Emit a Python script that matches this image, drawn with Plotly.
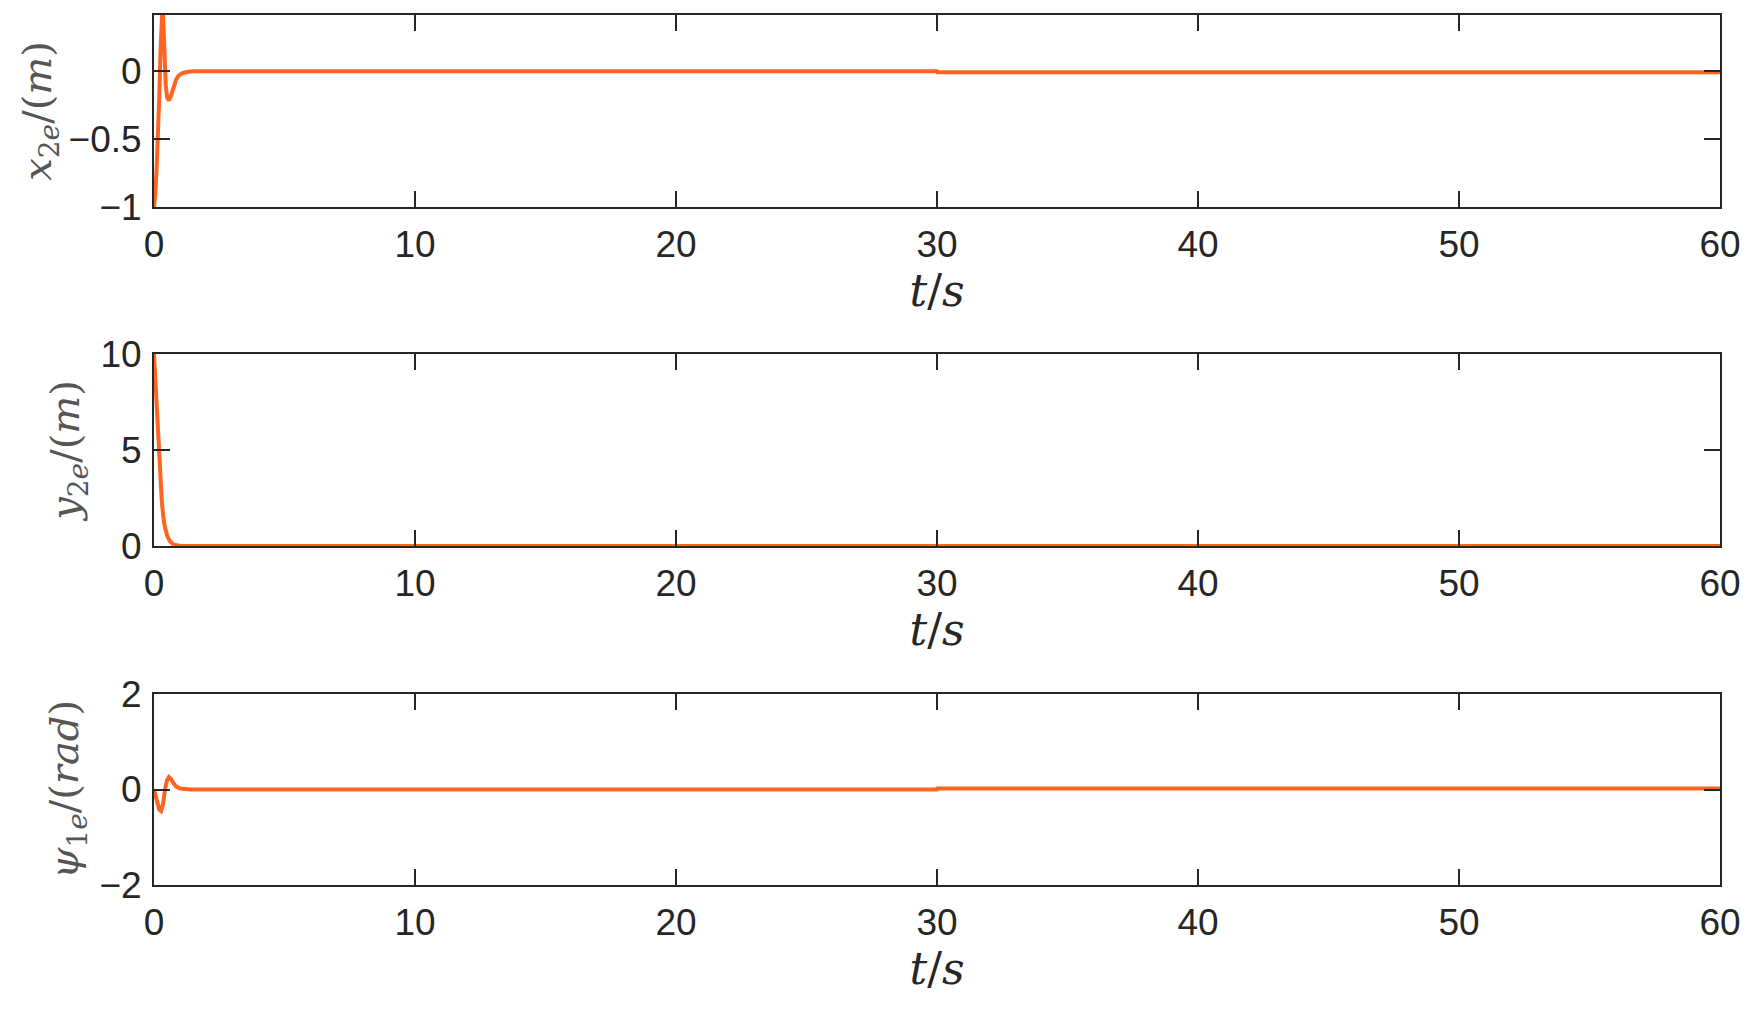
import plotly.graph_objects as go

# ---- data ----
t_x2e = [0, 0.05, 0.1, 0.15, 0.2, 0.25, 0.3, 0.33, 0.36, 0.4, 0.45, 0.5, 0.57,
         0.65, 0.75, 0.85, 0.95, 1.1, 1.3, 1.5, 30, 30.02, 60]
x2e = [-1, -0.9, -0.72, -0.5, -0.2, 0.15, 0.45, 0.5, 0.35, 0.05, -0.1, -0.19, -0.215,
       -0.18, -0.11, -0.06, -0.03, -0.012, -0.003, 0, 0, -0.006, -0.006]

t_y2e = [0, 0.05, 0.1, 0.15, 0.2, 0.25, 0.3, 0.35, 0.4, 0.5, 0.6, 0.7, 0.8, 1.0, 1.3, 60]
y2e = [10, 8.6, 7.0, 5.5, 4.2, 3.1, 2.3, 1.6, 1.1, 0.55, 0.27, 0.12, 0.05, 0.01, 0, 0]

t_psi = [0, 0.1, 0.2, 0.27, 0.35, 0.42, 0.5, 0.57, 0.65, 0.75, 0.85, 1.0, 1.2, 1.4,
         30, 30.02, 60]
psi1e = [0, -0.2, -0.42, -0.45, -0.3, 0, 0.2, 0.26, 0.22, 0.13, 0.06, 0.02, 0.005, 0,
         0, 0.02, 0.02]

x_ticks = [0, 10, 20, 30, 40, 50, 60]
y1_ticks = [-1, -0.5, 0]
y1_ticklabels = ["\u22121", "\u22120.5", "0"]
y2_ticks = [0, 5, 10]
y3_ticks = [-2, 0, 2]
y3_ticklabels = ["\u22122", "0", "2"]

y1_range = [-1, 0.415]
y2_range = [0, 10]
y3_range = [-2, 2]
x_range = [0, 60]

LINE_COLOR = "#FF6420"
AX_COLOR = "#262626"
TICK_FONT = dict(family="Liberation Sans, Arial", size=37, color=AX_COLOR)
TITLE_FONT = dict(family="DejaVu Serif", size=40, color="#555555")

fig = go.Figure()
fig.add_trace(go.Scatter(x=t_x2e, y=x2e, mode="lines", line=dict(color=LINE_COLOR, width=4),
                         xaxis="x", yaxis="y", showlegend=False))
fig.add_trace(go.Scatter(x=t_y2e, y=y2e, mode="lines", line=dict(color=LINE_COLOR, width=4),
                         xaxis="x2", yaxis="y2", showlegend=False))
fig.add_trace(go.Scatter(x=t_psi, y=psi1e, mode="lines", line=dict(color=LINE_COLOR, width=4),
                         xaxis="x3", yaxis="y3", showlegend=False))

# page has an 8px body margin; figure sized to fit the 1757x1010 window
W, H = 1741, 994
t_m, b_m = 7, 117
ph = H - t_m - b_m


def dom(top_px, bot_px):
    return [1 - (bot_px - t_m) / ph, 1 - (top_px - t_m) / ph]


common_x = dict(range=x_range, tickvals=x_ticks, ticks="inside", ticklen=16, tickwidth=1.5,
                tickcolor=AX_COLOR, showline=True, linecolor=AX_COLOR, linewidth=2,
                mirror="ticks", showgrid=False, zeroline=False, tickfont=TICK_FONT,
                ticklabelstandoff=4, automargin=False,
                title=dict(text="<i>t</i>/<i>s</i>", font=dict(family="DejaVu Serif", size=44,
                                                              color=AX_COLOR), standoff=5))
common_y = dict(ticks="inside", ticklen=16, tickwidth=1.5, tickcolor=AX_COLOR, showline=True,
                linecolor=AX_COLOR, linewidth=2, mirror="ticks", showgrid=False, zeroline=False,
                tickfont=TICK_FONT, ticklabelstandoff=3, automargin=False)

fig.update_layout(
    width=W, height=H,
    margin=dict(l=146, r=29, t=t_m, b=b_m),
    paper_bgcolor="white", plot_bgcolor="white",
    xaxis=dict(common_x, domain=[0, 1], anchor="y"),
    xaxis2=dict(common_x, domain=[0, 1], anchor="y2"),
    xaxis3=dict(common_x, domain=[0, 1], anchor="y3"),
    yaxis=dict(common_y, domain=dom(7, 199), anchor="x", range=y1_range,
               tickvals=y1_ticks, ticktext=y1_ticklabels,
               title=dict(text="<i>x</i><sub>2<i>e</i></sub>/(<i>m</i>)", font=TITLE_FONT, standoff=5)),
    yaxis2=dict(common_y, domain=dom(346, 538), anchor="x2", range=y2_range,
                tickvals=y2_ticks,
                title=dict(text="<i>y</i><sub>2<i>e</i></sub>/(<i>m</i>)", font=TITLE_FONT, standoff=8)),
    yaxis3=dict(common_y, domain=dom(686, 877), anchor="x3", range=y3_range,
                tickvals=y3_ticks, ticktext=y3_ticklabels,
                title=dict(text="<i>\u03c8</i><sub>1<i>e</i></sub>/(<i>rad</i>)", font=TITLE_FONT, standoff=8)),
)

fig.write_html("out.html")
